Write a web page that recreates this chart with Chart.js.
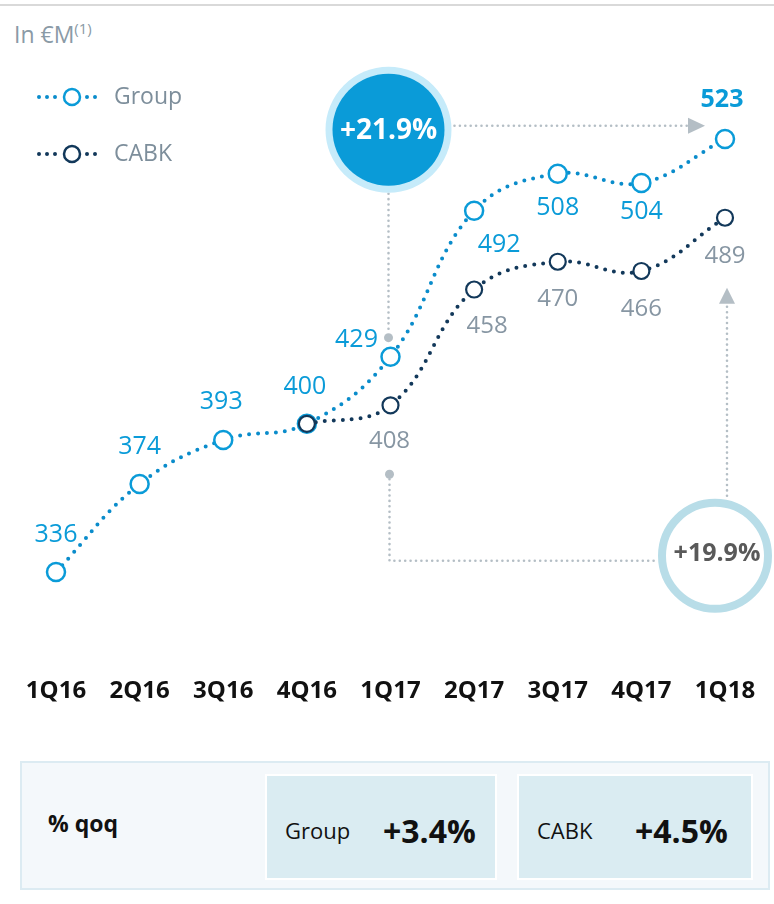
<!DOCTYPE html>
<html>
<head>
<meta charset="utf-8">
<script src="https://cdn.jsdelivr.net/npm/chart.js@4.4.1/dist/chart.umd.min.js"></script>
<style>
  body { margin: 0; background: #fff; font-family: "Open Sans", sans-serif; }
  #wrap { position: absolute; left: 0; top: 0; width: 774px; height: 904px; }
  .topline { position: absolute; left: 0; top: 4px; width: 774px; height: 2px; background: #d9d9d9; }
  .unit { position: absolute; left: 14px; top: 18px; font-size: 23px; color: #8a9aa6; }
  .unit sup { font-size: 15px; vertical-align: 9px; }
  .qoq { position: absolute; left: 20px; top: 761px; width: 746px; height: 125px;
         background: #f4f8fb; border: 2px solid #dcebf2; }
  .qoq .lbl { position: absolute; left: 26px; top: 44px; font-size: 23px; font-weight: 700; color: #111; }
  .qoq .box { position: absolute; top: 11px; height: 102px; background: #daecf2; border: 2px solid #fff; }
  .qoq .box span { position: absolute; top: 54px; transform: translateY(-50%); color: #111; }
  .qoq .name { font-size: 22px; }
  .qoq .pct { font-size: 32px; font-weight: 700; }
</style>
</head>
<body>
<div class="topline"></div>
<div class="unit">In €M<sup>(1)</sup></div>
<div id="wrap"><canvas id="c"></canvas></div>
<div class="qoq">
  <div class="lbl">% qoq</div>
  <div class="box" style="left:243px;width:228px;">
    <span class="name" style="left:18px;">Group</span>
    <span class="pct" style="left:116px;">+3.4%</span>
  </div>
  <div class="box" style="left:495px;width:232px;">
    <span class="name" style="left:18px;">CABK</span>
    <span class="pct" style="left:116px;">+4.5%</span>
  </div>
</div>
<script>
const quarters = ['1Q16', '2Q16', '3Q16', '4Q16', '1Q17', '2Q17', '3Q17', '4Q17', '1Q18'];
const groupValues = [336, 374, 393, 400, 429, 492, 508, 504, 523];
const cabkValues = [null, null, null, 400, 408, 458, 470, 466, 489];
const groupGrowth = '+21.9%';
const cabkGrowth = '+19.9%';

const BLUE = '#0a9bd8';
const BLUE_LINE = '#0a8ccb';
const NAVY = '#12385a';
const GREY_TXT = '#8796a3';
const GUIDE = '#b4bec5';

// label offsets from each point (dx, dy)
const groupLabelPos = [[0,-37],[0,-37],[-2,-38],[-2,-37],[-34,-17],[25,34],[0,34],[0,29],[-3,-39]];
const cabkLabelPos = [null,null,null,null,[-1,36],[13,37],[0,37],[0,38],[0,38]];

function dotted(ctx, pts, color) {
  ctx.save();
  ctx.strokeStyle = color;
  ctx.lineWidth = 2.6;
  ctx.lineCap = 'round';
  ctx.setLineDash([0, 5.4]);
  ctx.beginPath();
  ctx.moveTo(pts[0][0], pts[0][1]);
  for (let i = 1; i < pts.length; i++) ctx.lineTo(pts[i][0], pts[i][1]);
  ctx.stroke();
  ctx.restore();
}

function arrowHead(ctx, x, y, dir) {
  ctx.save();
  ctx.fillStyle = GUIDE;
  ctx.beginPath();
  if (dir === 'right') {
    ctx.moveTo(x, y); ctx.lineTo(x - 17, y - 8); ctx.lineTo(x - 17, y + 8);
  } else {
    ctx.moveTo(x, y); ctx.lineTo(x - 8, y + 16); ctx.lineTo(x + 8, y + 16);
  }
  ctx.closePath();
  ctx.fill();
  ctx.restore();
}

function dot(ctx, x, y) {
  ctx.save();
  ctx.fillStyle = GUIDE;
  ctx.beginPath();
  ctx.arc(x, y, 4.5, 0, Math.PI * 2);
  ctx.fill();
  ctx.restore();
}

const extras = {
  id: 'extras',
  beforeDatasetsDraw(chart) {
    const ctx = chart.ctx;
    const g = chart.getDatasetMeta(0).data;
    const c = chart.getDatasetMeta(1).data;
    const y = chart.scales.y;

    // guide lines
    const b1 = { x: g[4].x - 2, y: y.getPixelForValue(527) };
    const b2 = { x: g[8].x - 10, y: y.getPixelForValue(343) };
    dotted(ctx, [[b1.x + 66, b1.y - 4], [g[8].x - 24, b1.y - 4]], GUIDE);
    arrowHead(ctx, g[8].x - 20, b1.y - 4, 'right');
    dotted(ctx, [[b1.x, b1.y + 64], [b1.x, g[4].y - 24]], GUIDE);
    dot(ctx, b1.x, g[4].y - 19);

    dot(ctx, c[4].x - 1, c[4].y + 69);
    dotted(ctx, [[c[4].x - 1, c[4].y + 74], [c[4].x - 1, b2.y + 5], [b2.x - 60, b2.y + 5]], GUIDE);
    dotted(ctx, [[c[8].x + 2, b2.y - 60], [c[8].x + 2, c[8].y + 88]], GUIDE);
    arrowHead(ctx, c[8].x + 2, c[8].y + 70, 'up');

    // bubble 1
    ctx.save();
    ctx.fillStyle = '#c6ebfa';
    ctx.beginPath(); ctx.arc(b1.x, b1.y, 63, 0, Math.PI * 2); ctx.fill();
    ctx.fillStyle = BLUE;
    ctx.beginPath(); ctx.arc(b1.x, b1.y, 56, 0, Math.PI * 2); ctx.fill();
    ctx.fillStyle = '#fff';
    ctx.font = 'bold 28px "Open Sans"';
    ctx.textAlign = 'center';
    ctx.textBaseline = 'middle';
    ctx.fillText(groupGrowth, b1.x, b1.y + 1);

    // bubble 2
    ctx.fillStyle = '#fff';
    ctx.beginPath(); ctx.arc(b2.x, b2.y, 57, 0, Math.PI * 2); ctx.fill();
    ctx.strokeStyle = '#b8dde8';
    ctx.lineWidth = 8;
    ctx.beginPath(); ctx.arc(b2.x, b2.y, 53, 0, Math.PI * 2); ctx.stroke();
    ctx.fillStyle = '#595959';
    ctx.font = 'bold 25px "Open Sans"';
    ctx.fillText(cabkGrowth, b2.x + 2, b2.y - 2);
    ctx.restore();
  },
  afterDatasetsDraw(chart) {
    const ctx = chart.ctx;
    const g = chart.getDatasetMeta(0).data;
    const c = chart.getDatasetMeta(1).data;
    const x = chart.scales.x;
    ctx.save();
    ctx.textAlign = 'center';
    ctx.textBaseline = 'middle';

    groupValues.forEach((v, i) => {
      const o = groupLabelPos[i];
      ctx.fillStyle = BLUE;
      ctx.font = (i === groupValues.length - 1 ? 'bold ' : '') + '25px "Open Sans"';
      ctx.fillText(String(v), g[i].x + o[0], g[i].y + o[1]);
    });
    cabkValues.forEach((v, i) => {
      const o = cabkLabelPos[i];
      if (v === null || !o) return;
      ctx.fillStyle = GREY_TXT;
      ctx.font = '24px "Open Sans"';
      ctx.fillText(String(v), c[i].x + o[0], c[i].y + o[1]);
    });

    // category labels
    ctx.fillStyle = '#111';
    ctx.font = 'bold 24px "Open Sans"';
    quarters.forEach((q, i) => ctx.fillText(q, x.getPixelForValue(i), 691));

    // legend
    const items = [['Group', BLUE_LINE, BLUE, 97], ['CABK', NAVY, NAVY, 154]];
    items.forEach(([name, lc, mc, ly]) => {
      ctx.save();
      ctx.strokeStyle = lc;
      ctx.lineWidth = 4;
      ctx.lineCap = 'round';
      ctx.setLineDash([0, 8]);
      ctx.beginPath(); ctx.moveTo(39, ly); ctx.lineTo(60, ly); ctx.stroke();
      ctx.beginPath(); ctx.moveTo(87, ly); ctx.lineTo(97, ly); ctx.stroke();
      ctx.setLineDash([]);
      ctx.lineWidth = 2.5;
      ctx.strokeStyle = mc;
      ctx.fillStyle = '#fff';
      ctx.beginPath(); ctx.arc(72, ly, 8, 0, Math.PI * 2); ctx.fill(); ctx.stroke();
      ctx.restore();
      ctx.fillStyle = '#7d8e9b';
      ctx.font = '23px "Open Sans"';
      ctx.textAlign = 'left';
      ctx.fillText(name, 114, ly);
      ctx.textAlign = 'center';
    });
    ctx.restore();
  }
};

new Chart(document.getElementById('c'), {
  type: 'line',
  data: {
    labels: quarters,
    datasets: [
      {
        label: 'Group',
        data: groupValues,
        borderColor: BLUE_LINE,
        borderWidth: 4,
        borderDash: [0, 9],
        borderCapStyle: 'round',
        tension: 0.4,
        pointRadius: 9,
        pointBorderWidth: 2.5,
        pointBorderColor: BLUE,
        pointBackgroundColor: '#fff',
        clip: false,
        order: 1
      },
      {
        label: 'CABK',
        data: cabkValues,
        borderColor: NAVY,
        borderWidth: 4,
        borderDash: [0, 9],
        borderCapStyle: 'round',
        tension: 0.4,
        pointRadius: 8,
        pointBorderWidth: 2.2,
        pointBorderColor: NAVY,
        pointBackgroundColor: '#fff',
        clip: false,
        order: 0
      }
    ]
  },
  options: {
    responsive: true,
    maintainAspectRatio: false,
    animation: false,
    layout: { padding: { left: 56, right: 49, top: 40, bottom: 264 } },
    plugins: { legend: { display: false }, tooltip: { enabled: false } },
    scales: {
      x: { display: false },
      y: { display: false, min: 306.63, max: 565.76 }
    }
  },
  plugins: [extras]
});
</script>
</body>
</html>
